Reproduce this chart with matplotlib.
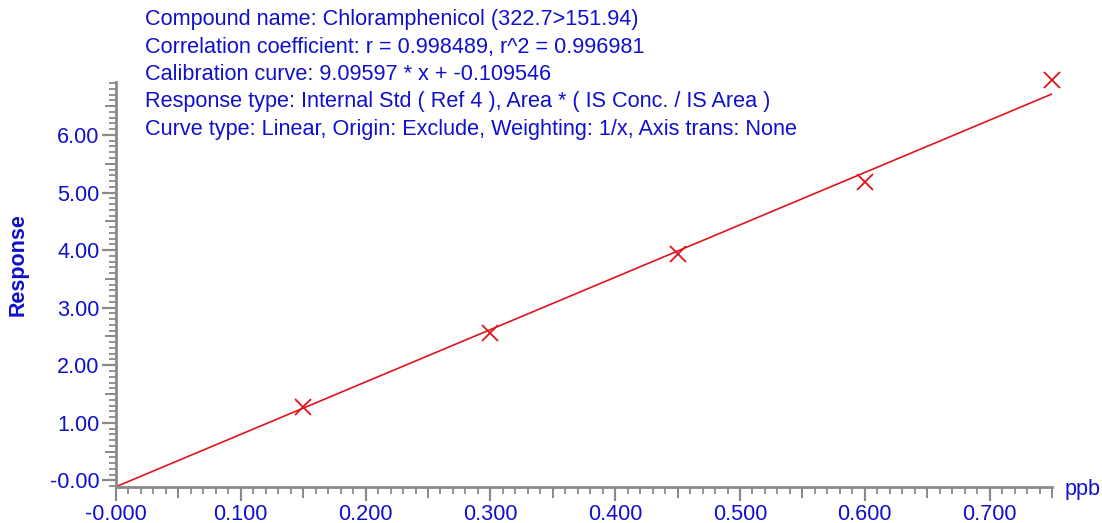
import matplotlib
matplotlib.use("Agg")
import matplotlib.pyplot as plt
import numpy as np
from matplotlib.ticker import MultipleLocator

# calibration data
conc = [0.15, 0.30, 0.45, 0.60, 0.75]
response = [1.28, 2.56, 3.94, 5.18, 6.95]
slope = 9.09597
intercept = -0.109546
fit_x = [0.0, 0.75]

header = [
    "Compound name: Chloramphenicol (322.7>151.94)",
    "Correlation coefficient: r = 0.998489, r^2 = 0.996981",
    "Calibration curve: 9.09597 * x + -0.109546",
    "Response type: Internal Std ( Ref 4 ), Area * ( IS Conc. / IS Area )",
    "Curve type: Linear, Origin: Exclude, Weighting: 1/x, Axis trans: None",
]

blue = "#1010cc"
gray = "#8a8a8a"
red = "#e0141e"
fs = 15.6

plt.rcParams["font.family"] = ["Liberation Sans", "DejaVu Sans"]

fig = plt.figure(figsize=(11.02, 5.23), dpi=100)
ax = fig.add_axes([116 / 1102, 1 - 487 / 523, (1052 - 116) / 1102, (487 - 82) / 523])

fit_y = [slope * x + intercept for x in fit_x]
ax.plot(fit_x, fit_y, color=red, lw=1.2)
ax.plot(conc, response, "x", color=red, ms=11, mew=1.3, clip_on=False)

ax.set_xlim(0, 0.75)
ax.set_ylim(-0.115, 6.92)

for s in ["top", "right"]:
    ax.spines[s].set_visible(False)
for s in ["left", "bottom"]:
    ax.spines[s].set_color(gray)
    ax.spines[s].set_linewidth(2)

ax.xaxis.set_minor_locator(MultipleLocator(0.01))
ax.yaxis.set_minor_locator(MultipleLocator(0.1))
ax.set_xticks(np.arange(0, 0.75, 0.1))
ax.set_yticks(np.arange(0, 7, 1.0))
ax.set_xticklabels(["-0.000"] + ["%.3f" % v for v in np.arange(0.1, 0.75, 0.1)])
ax.set_yticklabels(["-0.00"] + ["%.2f" % v for v in np.arange(1, 7, 1.0)])

ax.tick_params(which="major", length=10, width=1.6, color=gray, labelcolor=blue,
               labelsize=fs, pad=2)
ax.tick_params(which="minor", length=5, width=1.3, color=gray)

# half-way ticks slightly longer
secx = ax.secondary_xaxis("bottom")
secx.set_xticks(np.arange(0.05, 0.76, 0.1))
secx.tick_params(length=8, width=1.4, color=gray, labelbottom=False)
secx.spines["bottom"].set_visible(False)
secy = ax.secondary_yaxis("left")
secy.set_yticks(np.arange(0.5, 6.9, 1.0))
secy.tick_params(length=8, width=1.4, color=gray, labelleft=False)
secy.spines["left"].set_visible(False)

fig.text(18 / 1102, 1 - 265 / 523, "Response", rotation=90, color=blue,
         fontsize=15.5, fontweight="bold", ha="center", va="center")
fig.text(1065 / 1102, 1 - 490 / 523, "ppb", color=blue, fontsize=fs,
         ha="left", va="center")

for i, line in enumerate(header):
    fig.text(145 / 1102, 1 - (20 + 27.3 * i) / 523, line, color=blue,
             fontsize=fs, ha="left", va="center")

fig.savefig("out.png", dpi=100)
